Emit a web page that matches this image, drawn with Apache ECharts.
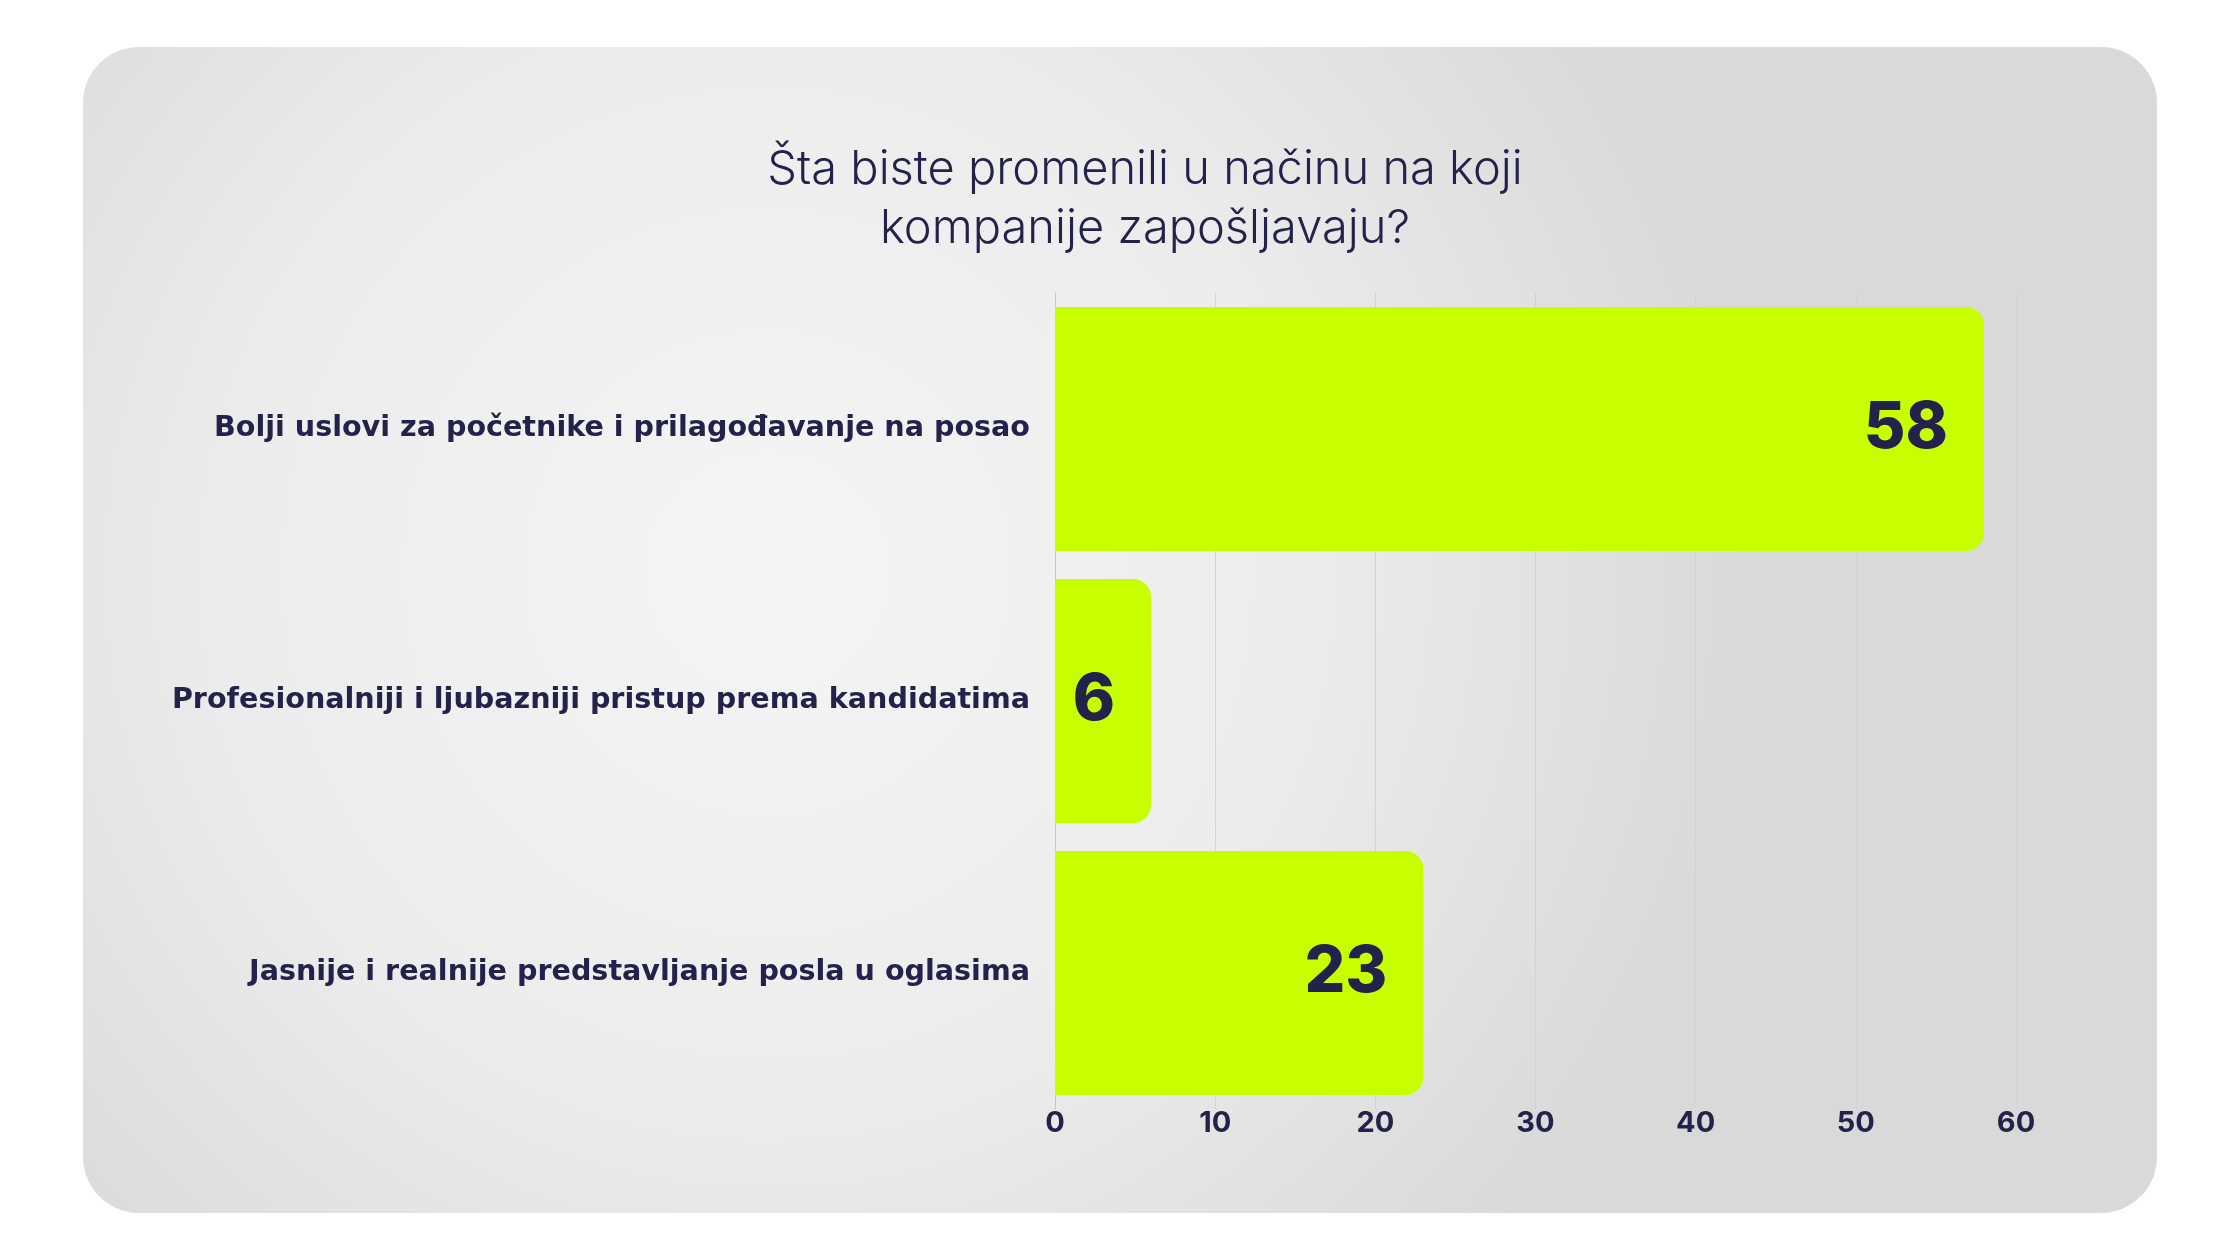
<!DOCTYPE html>
<html>
<head>
<meta charset="utf-8">
<script src="https://cdn.jsdelivr.net/npm/echarts@6/dist/echarts.min.js"></script>
<style>
  html, body { margin: 0; padding: 0; background: #ffffff; }
  #chart { width: 2240px; height: 1260px; }
</style>
</head>
<body>
<div id="chart"></div>
<script>
// podaci
const categories = [
  'Bolji uslovi za početnike i prilagođavanje na posao',
  'Profesionalniji i ljubazniji pristup prema kandidatima',
  'Jasnije i realnije predstavljanje posla u oglasima'
];
const values = [58, 6, 23];
const titleText = 'Šta biste promenili u načinu na koji\nkompanije zapošljavaju?';

const navy = '#22224a';
const lime = '#c7ff00';

const chart = echarts.init(document.getElementById('chart'));

chart.setOption({
  backgroundColor: '#ffffff',
  textStyle: { fontFamily: 'Inter, "Noto Sans", sans-serif' },
  graphic: [{
    type: 'rect',
    z: -10,
    silent: true,
    shape: { x: 83, y: 47, width: 2074, height: 1166, r: 56 },
    style: {
      fill: {
        type: 'radial', x: 0.33, y: 0.45, r: 0.85,
        colorStops: [
          { offset: 0, color: '#f5f5f5' },
          { offset: 0.55, color: '#ececec' },
          { offset: 1, color: '#d9d9d9' }
        ]
      }
    }
  }],
  title: {
    text: titleText,
    left: 1140,
    textAlign: 'center',
    top: 135,
    textStyle: {
      color: navy,
      fontSize: 47,
      fontWeight: 300,
      lineHeight: 59,
      fontFamily: 'Inter, sans-serif'
    }
  },
  grid: { left: 1055, right: 224, top: 293, bottom: 151, containLabel: false },
  xAxis: {
    type: 'value',
    min: 0,
    max: 60,
    interval: 10,
    axisLine: { show: false },
    axisTick: { show: false },
    splitLine: { show: true, lineStyle: { color: '#d2d2d8', width: 1 } },
    axisLabel: {
      color: navy,
      fontSize: 29,
      fontWeight: 700,
      margin: 0
    }
  },
  yAxis: {
    type: 'category',
    data: categories,
    inverse: true,
    axisLine: { show: true, lineStyle: { color: '#c4c4d0', width: 1 } },
    axisTick: { show: false },
    axisLabel: {
      color: navy,
      fontSize: 28.6,
      fontWeight: 700,
      margin: 25,
      fontFamily: '"DejaVu Sans", sans-serif'
    }
  },
  series: [{
    type: 'bar',
    data: values,
    barWidth: 244,
    itemStyle: { color: lime, borderRadius: [0, 18, 18, 0] },
    label: {
      show: true,
      position: 'insideRight',
      distance: 36,
      color: navy,
      fontSize: 64,
      fontWeight: 800
    },
    silent: true
  }],
  animation: false
});
</script>
</body>
</html>
